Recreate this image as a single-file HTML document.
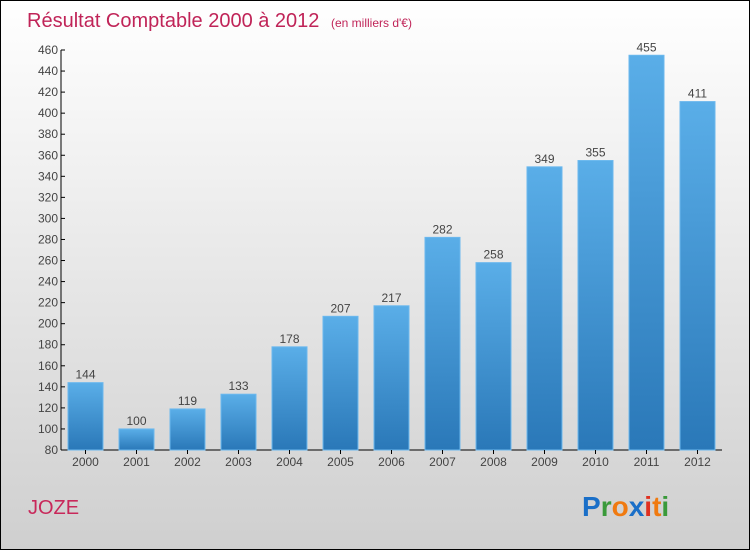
<!DOCTYPE html>
<html><head><meta charset="utf-8"><style>
body{margin:0;width:750px;height:550px;overflow:hidden;font-family:"Liberation Sans",sans-serif}
</style></head><body>
<svg width="750" height="550" xmlns="http://www.w3.org/2000/svg">
<defs>
<linearGradient id="bg" x1="0" y1="0" x2="0" y2="1"><stop offset="0" stop-color="#ffffff"/><stop offset="1" stop-color="#cfcfcf"/></linearGradient>
<linearGradient id="bar" x1="0" y1="0" x2="0" y2="1"><stop offset="0" stop-color="#5aaee8"/><stop offset="1" stop-color="#2a78b8"/></linearGradient>
</defs>
<rect x="0.5" y="0.5" width="749" height="549" fill="url(#bg)" stroke="#000"/>
<text x="27" y="27" font-size="20" fill="#c02458">Résultat Comptable 2000 à 2012 <tspan font-size="12" dx="6">(en milliers d'€)</tspan></text>
<g id="plot"></g>
<text x="28" y="514" font-size="20" fill="#c8285a">JOZE</text>
<text x="582" y="516" font-size="28" font-weight="bold"><tspan fill="#1a6fc8">P</tspan><tspan fill="#3a9a3a">r</tspan><tspan fill="#f07a10">o</tspan><tspan fill="#1a6fc8">x</tspan><tspan fill="#e03020">i</tspan><tspan fill="#f07a10">t</tspan><tspan fill="#3a9a3a">i</tspan></text>
</svg>
<script>
const categories=["2000","2001","2002","2003","2004","2005","2006","2007","2008","2009","2010","2011","2012"];
const values=[144,100,119,133,178,207,217,282,258,349,355,455,411];
const ticks=[80,100,120,140,160,180,200,220,240,260,280,300,320,340,360,380,400,420,440,460];
const NS="http://www.w3.org/2000/svg";
const g=document.getElementById("plot");
const y=v=>450-(v-80)*(400/380);
const xc=i=>85.5+51*i;
function mk(t,a,txt){const e=document.createElementNS(NS,t);for(const k in a)e.setAttribute(k,a[k]);if(txt!=null)e.textContent=txt;g.appendChild(e);return e;}
let ax=mk("line",{x1:61,y1:y(460),x2:61,y2:450,stroke:"#000"});


let bx=mk("line",{x1:61,y1:450,x2:722,y2:450,stroke:"#000"});


ticks.forEach(t=>{
 let l=mk("line",{x1:61,y1:y(t),x2:65,y2:y(t),stroke:"#000"});
 
 
 let tx=mk("text",{x:58,y:y(t)+4,"font-size":12,fill:"#444","text-anchor":"end"},t);
 
 
});
categories.forEach((c,i)=>{
 const v=values[i];
 let r=mk("rect",{x:xc(i)-17.5,y:y(v),width:35,height:450-y(v),fill:"url(#bar)",stroke:"#6bb8ee","stroke-width":1});
 
 
 let vl=mk("text",{x:xc(i),y:y(v)-4,"font-size":12,fill:"#444","text-anchor":"middle"},v);
 
 
 let tl=mk("line",{x1:xc(i),y1:450,x2:xc(i),y2:454,stroke:"#000"});
 
 
 let xl=mk("text",{x:xc(i),y:466,"font-size":12,fill:"#444","text-anchor":"middle"},c);
 
 
});
</script>
</body></html>
